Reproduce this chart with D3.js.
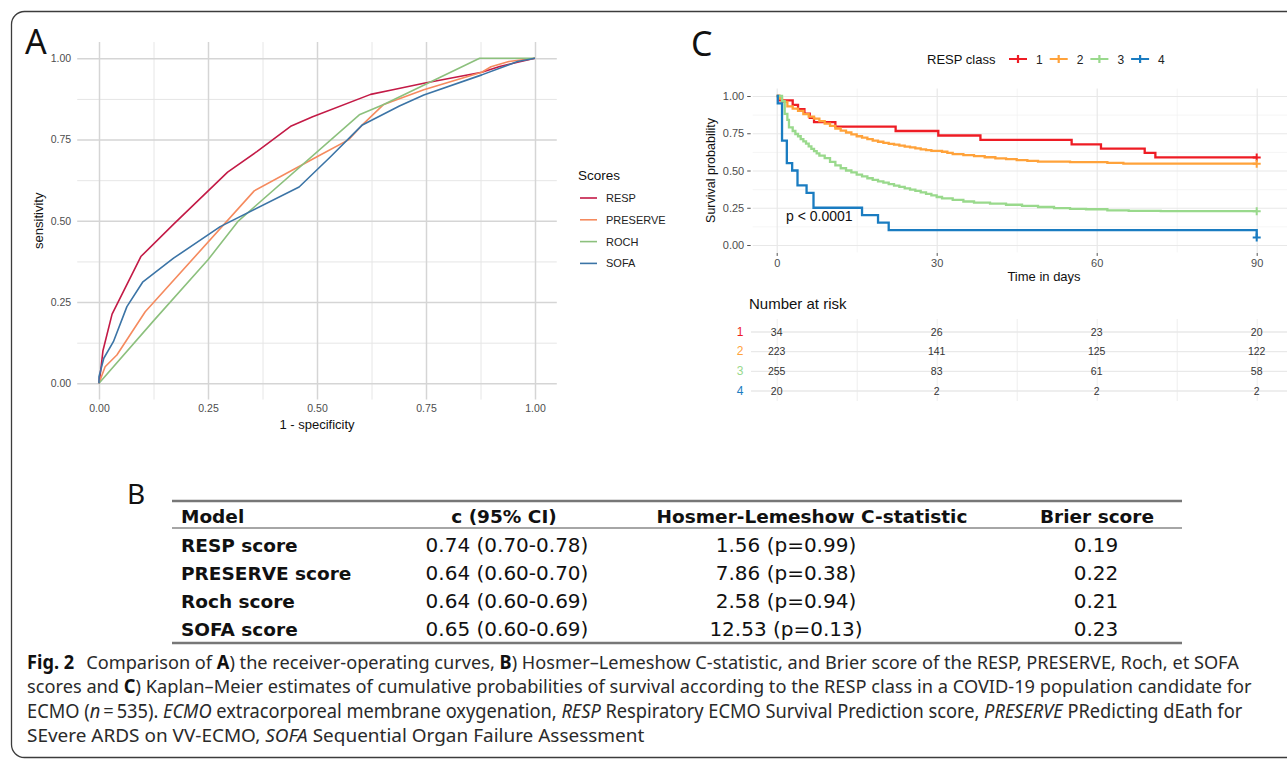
<!DOCTYPE html>
<html>
<head>
<meta charset="utf-8">
<script src="https://cdn.jsdelivr.net/npm/d3@7"></script>
<style>
  body { margin: 0; background: #fff; }
  svg { display: block; font-family: "Liberation Sans", Arial, sans-serif; }
</style>
</head>
<body>
<script>
(function(){

//---- panel A : ROC curves, points are [1 - specificity, sensitivity]
var rocScores = ["RESP", "PRESERVE", "ROCH", "SOFA"];
var rocColors = ["#c31a46", "#f58a5e", "#8cc07d", "#3b74a6"];
var rocResp = [[0,0],[0.004,0.04],[0.009,0.10],[0.03,0.213],[0.096,0.39],[0.173,0.492],[0.295,0.65],
    [0.362,0.713],[0.441,0.792],[0.49,0.82],[0.623,0.889],[0.674,0.903],[0.745,0.923],[0.878,0.957],[0.919,0.975],[1,1]];
var rocPreserve = [[0,0],[0.014,0.051],[0.041,0.087],[0.106,0.22],[0.356,0.592],[0.5,0.697],[0.572,0.749],
    [0.604,0.795],[0.653,0.858],[0.745,0.903],[0.878,0.957],[0.899,0.974],[0.94,0.99],[1,1]];
var rocRoch = [[0,0],[0.125,0.192],[0.25,0.38],[0.32,0.5],[0.597,0.826],[0.653,0.858],[0.873,1],[1,1]];
var rocSofa = [[0,0],[0,0.02],[0.011,0.077],[0.033,0.128],[0.064,0.236],[0.1,0.311],[0.171,0.385],[0.278,0.482],
    [0.459,0.604],[0.531,0.697],[0.604,0.795],[0.689,0.853],[0.745,0.887],[0.878,0.949],[0.96,0.99],[1,1]];
var rocTicks = [0, 0.25, 0.5, 0.75, 1];
var rocMinor = [0.125, 0.375, 0.625, 0.875];

//---- panel C : Kaplan-Meier steps, points are [day, survival]
var kmClasses = ["1", "2", "3", "4"];
var kmColors = ["#ee1c24", "#ffa23a", "#99d98c", "#1a7cc1"];
var kmClass1 = [[0,1],[0.5,0.971],[3,0.941],[4,0.912],[5.2,0.882],[6.2,0.853],[7,0.824],[11,0.794],[22.3,0.765],
    [30.3,0.735],[38.2,0.706],[55.3,0.676],[60.8,0.647],[69,0.618],[71,0.588],[90,0.588]];
var kmClass2 = [[0,1],[0.5,0.982],[1,0.96],[2,0.93],[3,0.915],[4,0.9],[5,0.878],[6,0.862],[7,0.848],[8,0.832],
    [9,0.815],[10,0.8],[11,0.782],[12,0.768],[13,0.755],[14,0.742],[15,0.73],[16,0.72],[17,0.71],[18,0.7],
    [19,0.693],[20,0.686],[21,0.679],[22,0.673],[23,0.667],[24,0.66],[25,0.655],[26,0.648],[27,0.642],[28,0.637],
    [29,0.632],[31,0.626],[32,0.618],[33,0.61],[35,0.603],[37,0.596],[39,0.589],[41,0.582],[43,0.576],[45,0.57],
    [47,0.565],[49,0.56],[55,0.556],[62,0.551],[65,0.546],[90,0.546]];
var kmClass3 = [[0,1],[1,0.965],[1.5,0.88],[2,0.84],[2.3,0.79],[3,0.765],[3.5,0.745],[4,0.73],[4.5,0.71],[5,0.695],
    [5.5,0.68],[6,0.662],[6.5,0.645],[7,0.63],[7.5,0.615],[8,0.6],[9,0.583],[10,0.558],[11,0.535],[12,0.515],
    [13,0.5],[14,0.488],[15,0.472],[16,0.46],[17,0.448],[18,0.437],[19,0.427],[20,0.418],[21,0.408],[22,0.398],
    [23,0.39],[24,0.38],[25,0.372],[26,0.363],[27,0.353],[28,0.343],[29,0.333],[30,0.322],[31,0.313],[33,0.303],
    [35,0.292],[37,0.285],[40,0.278],[43,0.27],[46,0.262],[49,0.255],[52,0.248],[55,0.243],[58,0.24],[62,0.233],
    [66,0.229],[72,0.227],[90,0.227]];
var kmClass4 = [[0,1],[0.2,0.95],[1,0.70],[1.9,0.55],[2.9,0.50],[3.9,0.40],[5.6,0.35],[6.9,0.25],[16,0.20],
    [19,0.15],[21,0.10],[90,0.10],[90,0.05]];
var kmTicksX = [0, 30, 60, 90];
var kmMinorX = [15, 45, 75];
var kmTicksY = [0, 0.25, 0.5, 0.75, 1];
var kmMinorY = [0.125, 0.375, 0.625, 0.875];
var pValue = "p < 0.0001";

//number at risk table
var riskTimes = [0, 30, 60, 90];
var risk1 = [34, 26, 23, 20];
var risk2 = [223, 141, 125, 122];
var risk3 = [255, 83, 61, 58];
var risk4 = [20, 2, 2, 2];

//---- panel B : table
var tableHeader = ["Model", "c (95% CI)", "Hosmer-Lemeshow C-statistic", "Brier score"];
var tableModel = ["RESP score", "PRESERVE score", "Roch score", "SOFA score"];
var tableC = ["0.74 (0.70-0.78)", "0.64 (0.60-0.70)", "0.64 (0.60-0.69)", "0.65 (0.60-0.69)"];
var tableHL = ["1.56 (p=0.99)", "7.86 (p=0.38)", "2.58 (p=0.94)", "12.53 (p=0.13)"];
var tableBrier = ["0.19", "0.22", "0.21", "0.23"];

//---- caption, segments are [text, style]
var captionLines = [
    [["Fig. 2", "b"], ["\u2002\u2009Comparison of ", ""], ["A", "b"], [") the receiver-operating curves, ", ""], ["B", "b"],
     [") Hosmer\u2013Lemeshow C-statistic, and Brier score of the RESP, PRESERVE, Roch, et SOFA", ""]],
    [["scores and ", ""], ["C", "b"],
     [") Kaplan\u2013Meier estimates of cumulative probabilities of survival according to the RESP class in a COVID-19 population candidate for", ""]],
    [["ECMO (", ""], ["n", "i"], ["\u2009=\u2009535). ", ""], ["ECMO", "i"], [" extracorporeal membrane oxygenation, ", ""],
     ["RESP", "i"], [" Respiratory ECMO Survival Prediction score, ", ""], ["PRESERVE", "i"], [" PRedicting dEath for", ""]],
    [["SEvere ARDS on VV-ECMO, ", ""], ["SOFA", "i"], [" Sequential Organ Failure Assessment", ""]]
];
//right end of each caption line in the figure
var captionEnds = [1240, 1252, 1243, 645];

var width = 1287, height = 762;

var svg = d3.select("body")
    .append("svg")
    .attr("width", width)
    .attr("height", height);

//outer frame with rounded corners, runs off the right edge
svg.append("rect")
    .attr("x", 11.5).attr("y", 11.5)
    .attr("width", 1400).attr("height", 746)
    .attr("rx", 13)
    .attr("fill", "none")
    .attr("stroke", "#3c3c3c")
    .attr("stroke-width", 1.3);

//panel letters
function panelLetter(x, y, size, letter){
    svg.append("text")
        .attr("x", x).attr("y", y)
        .style("font-family", "'Noto Sans', sans-serif")
        .style("font-size", size + "px")
        .attr("fill", "#111")
        .text(letter);
};
panelLetter(25, 54, 34, "A");
panelLetter(691, 56, 34, "C");
panelLetter(127, 504, 28, "B");

//helper to draw grid lines through an axis generator
function gridLines(g, axis, color, w){
    g.call(axis)
        .call(function(s){ s.select(".domain").remove(); })
        .call(function(s){ s.selectAll("line").attr("stroke", color).attr("stroke-width", w); });
};

setRoc();
setKm();
setRisk();
setTable();
setCaption();

//ROC panel
function setRoc(){
    var x = d3.scaleLinear().domain([0, 1]).range([99, 535]),
        y = d3.scaleLinear().domain([0, 1]).range([383.3, 58.3]);
    var x0 = x(-0.05), x1 = x(1.05), y0 = y(1.05), y1 = y(-0.05);

    var g = svg.append("g");

    gridLines(g.append("g").attr("transform", "translate(0," + y1 + ")"),
        d3.axisBottom(x).tickValues(rocMinor).tickSize(-(y1 - y0)).tickFormat(""), "#e6e6e6", 1);
    gridLines(g.append("g").attr("transform", "translate(" + x0 + ",0)"),
        d3.axisLeft(y).tickValues(rocMinor).tickSize(-(x1 - x0)).tickFormat(""), "#e6e6e6", 1);
    gridLines(g.append("g").attr("transform", "translate(0," + y1 + ")"),
        d3.axisBottom(x).tickValues(rocTicks).tickSize(-(y1 - y0)).tickFormat(""), "#d5d5d5", 1.5);
    gridLines(g.append("g").attr("transform", "translate(" + x0 + ",0)"),
        d3.axisLeft(y).tickValues(rocTicks).tickSize(-(x1 - x0)).tickFormat(""), "#d5d5d5", 1.5);

    //tick labels
    var fmt = d3.format(".2f");
    var ax = g.append("g").attr("transform", "translate(0," + y1 + ")")
        .call(d3.axisBottom(x).tickValues(rocTicks).tickSize(0).tickPadding(5).tickFormat(fmt));
    var ay = g.append("g").attr("transform", "translate(" + x0 + ",0)")
        .call(d3.axisLeft(y).tickValues(rocTicks).tickSize(0).tickPadding(6).tickFormat(fmt));
    [ax, ay].forEach(function(a){
        a.select(".domain").remove();
        a.selectAll("text")
            .style("font-family", "'Liberation Sans', Arial, sans-serif")
            .style("font-size", "10.5px")
            .attr("fill", "#4d4d4d");
    });

    //axis titles
    g.append("text")
        .attr("x", (x0 + x1) / 2).attr("y", 429)
        .attr("text-anchor", "middle")
        .style("font-size", "13px")
        .attr("fill", "#111")
        .text("1 - specificity");
    g.append("text")
        .attr("transform", "translate(43," + ((y0 + y1) / 2) + ") rotate(-90)")
        .attr("text-anchor", "middle")
        .style("font-size", "13px")
        .attr("fill", "#111")
        .text("sensitivity");

    //curves
    var line = d3.line()
        .x(function(d){ return x(d[0]); })
        .y(function(d){ return y(d[1]); });
    var curves = [rocResp, rocPreserve, rocRoch, rocSofa];
    g.selectAll(".roc")
        .data(curves)
        .enter()
        .append("path")
        .attr("class", "roc")
        .attr("d", line)
        .attr("fill", "none")
        .attr("stroke", function(d, i){ return rocColors[i]; })
        .attr("stroke-width", 1.6)
        .attr("stroke-linejoin", "round");

    //legend
    var leg = g.append("g");
    leg.append("text")
        .attr("x", 578).attr("y", 180)
        .style("font-size", "13.5px")
        .attr("fill", "#111")
        .text("Scores");
    var items = leg.selectAll(".item")
        .data(rocScores)
        .enter()
        .append("g")
        .attr("transform", function(d, i){ return "translate(580," + (198 + i * 21.8) + ")"; });
    items.append("line")
        .attr("x1", 0).attr("x2", 17)
        .attr("stroke", function(d, i){ return rocColors[i]; })
        .attr("stroke-width", 1.6);
    items.append("text")
        .attr("x", 26).attr("y", 4)
        .style("font-size", "11px")
        .attr("fill", "#222")
        .text(function(d){ return d; });
};

//Kaplan-Meier panel
function setKm(){
    var x = d3.scaleLinear().domain([0, 90]).range([776.7, 1256.7]),
        y = d3.scaleLinear().domain([0, 1]).range([245, 96]);
    var x0 = x(-4.5), x1 = x(104.5), y0 = y(1.05), y1 = y(-0.05);

    var g = svg.append("g");

    gridLines(g.append("g").attr("transform", "translate(0," + y1 + ")"),
        d3.axisBottom(x).tickValues(kmMinorX).tickSize(-(y1 - y0)).tickFormat(""), "#f2f2f2", 0.8);
    gridLines(g.append("g").attr("transform", "translate(" + x0 + ",0)"),
        d3.axisLeft(y).tickValues(kmMinorY).tickSize(-(x1 - x0)).tickFormat(""), "#f2f2f2", 0.8);
    gridLines(g.append("g").attr("transform", "translate(0," + y1 + ")"),
        d3.axisBottom(x).tickValues(kmTicksX).tickSize(-(y1 - y0)).tickFormat(""), "#e8e8e8", 1.2);
    gridLines(g.append("g").attr("transform", "translate(" + x0 + ",0)"),
        d3.axisLeft(y).tickValues(kmTicksY).tickSize(-(x1 - x0)).tickFormat(""), "#e8e8e8", 1.2);

    //axes with small ticks
    var ax = g.append("g").attr("transform", "translate(0," + (y1 + 0.5) + ")")
        .call(d3.axisBottom(x).tickValues(kmTicksX).tickSize(3).tickPadding(3));
    var ay = g.append("g").attr("transform", "translate(" + (x0 - 2) + ",0)")
        .call(d3.axisLeft(y).tickValues(kmTicksY).tickSize(3.5).tickPadding(3).tickFormat(d3.format(".2f")));
    [ax, ay].forEach(function(a){
        a.select(".domain").remove();
        a.selectAll("line").attr("stroke", "#555").attr("stroke-width", 1);
        a.selectAll("text")
            .style("font-family", "'Liberation Sans', Arial, sans-serif")
            .style("font-size", "11px")
            .attr("fill", "#4d4d4d");
    });

    g.append("text")
        .attr("x", 1044).attr("y", 281)
        .attr("text-anchor", "middle")
        .style("font-size", "13px")
        .attr("fill", "#111")
        .text("Time in days");
    g.append("text")
        .attr("transform", "translate(715," + ((y0 + y1) / 2) + ") rotate(-90)")
        .attr("text-anchor", "middle")
        .style("font-size", "12.5px")
        .attr("fill", "#111")
        .text("Survival probability");

    //survival steps
    var line = d3.line()
        .curve(d3.curveStepAfter)
        .x(function(d){ return x(d[0]); })
        .y(function(d){ return y(d[1]); });
    var curves = [kmClass1, kmClass2, kmClass3, kmClass4];
    var paths = g.append("g");
    curves.forEach(function(c, i){
        paths.append("path")
            .attr("d", line(c))
            .attr("fill", "none")
            .attr("stroke", kmColors[i])
            .attr("stroke-width", 2.3);
    });
    //censor marks at the end of follow up
    curves.forEach(function(c, i){
        var last = c[c.length - 1];
        var cx = x(last[0]), cy = y(last[1]);
        paths.append("path")
            .attr("d", "M" + (cx - 4) + "," + cy + "H" + (cx + 4) + "M" + cx + "," + (cy - 4) + "V" + (cy + 4))
            .attr("stroke", kmColors[i])
            .attr("stroke-width", 2);
    });

    g.append("text")
        .attr("x", 786).attr("y", 221)
        .style("font-size", "14px")
        .attr("fill", "#111")
        .text(pValue);

    //legend on top
    var leg = g.append("g");
    leg.append("text")
        .attr("x", 927).attr("y", 63.5)
        .style("font-size", "13px")
        .attr("fill", "#111")
        .text("RESP class");
    var items = leg.selectAll(".item")
        .data(kmClasses)
        .enter()
        .append("g")
        .attr("transform", function(d, i){ return "translate(" + (1009 + i * 40.7) + ",59)"; });
    items.append("path")
        .attr("d", "M0,0H18M9,-4V4")
        .attr("stroke", function(d, i){ return kmColors[i]; })
        .attr("stroke-width", 2.2);
    items.append("text")
        .attr("x", 27).attr("y", 4.5)
        .style("font-size", "12px")
        .attr("fill", "#222")
        .text(function(d){ return d; });
};

//number at risk table
function setRisk(){
    var x = d3.scaleLinear().domain([0, 90]).range([776.7, 1256.7]),
        y = d3.scalePoint().domain(kmClasses).range([331.5, 390.5]);
    var rows = [risk1, risk2, risk3, risk4];
    var g = svg.append("g");

    g.append("text")
        .attr("x", 749).attr("y", 309)
        .style("font-size", "15px")
        .attr("fill", "#111")
        .text("Number at risk");

    //grid
    gridLines(g.append("g").attr("transform", "translate(0,401)"),
        d3.axisBottom(x).tickValues(kmMinorX.concat(kmTicksX)).tickSize(-82).tickFormat(""), "#eeeeee", 1);
    gridLines(g.append("g").attr("transform", "translate(751,0)"),
        d3.axisLeft(y).tickSize(-560).tickFormat(""), "#e9e9e9", 1.3);

    rows.forEach(function(r, i){
        g.append("text")
            .attr("x", 740).attr("y", y(kmClasses[i]) + 4)
            .attr("text-anchor", "middle")
            .style("font-size", "12px")
            .attr("fill", kmColors[i])
            .text(kmClasses[i]);
        g.selectAll(".n" + i)
            .data(r)
            .enter()
            .append("text")
            .attr("x", function(d, j){ return x(riskTimes[j]); })
            .attr("y", y(kmClasses[i]) + 4)
            .attr("text-anchor", "middle")
            .style("font-size", "10.5px")
            .attr("fill", "#333")
            .text(function(d){ return d; });
    });
};

//results table
function setTable(){
    var g = svg.append("g").style("font-family", "'DejaVu Sans', sans-serif");
    var y = d3.scalePoint().domain(tableModel).range([545, 629]);
    var headX = [181, 504, 812, 1097],
        colX = [181, 507, 786, 1096];

    g.append("line").attr("x1", 172).attr("x2", 1182).attr("y1", 501).attr("y2", 501)
        .attr("stroke", "#777").attr("stroke-width", 2.4);
    g.append("line").attr("x1", 172).attr("x2", 1182).attr("y1", 528).attr("y2", 528)
        .attr("stroke", "#888").attr("stroke-width", 1.4);
    g.append("line").attr("x1", 172).attr("x2", 1182).attr("y1", 643).attr("y2", 643)
        .attr("stroke", "#777").attr("stroke-width", 2.4);

    g.selectAll(".head")
        .data(tableHeader)
        .enter()
        .append("text")
        .attr("x", function(d, i){ return headX[i]; })
        .attr("y", 523)
        .attr("text-anchor", function(d, i){ return i == 0 ? "start" : "middle"; })
        .style("font-size", "18.5px")
        .style("font-weight", "bold")
        .attr("fill", "#111")
        .text(function(d){ return d; });

    var cols = [tableModel, tableC, tableHL, tableBrier];
    cols.forEach(function(col, c){
        g.selectAll(".c" + c)
            .data(col)
            .enter()
            .append("text")
            .attr("x", colX[c])
            .attr("y", function(d, i){ return y(tableModel[i]) + 7; })
            .attr("text-anchor", c == 0 ? "start" : "middle")
            .style("font-size", c == 0 ? "18.5px" : "20px")
            .style("font-weight", c == 0 ? "bold" : "normal")
            .attr("fill", "#111")
            .text(function(d){ return d; });
    });
};

//figure caption
function setCaption(){
    var g = svg.append("g")
        .style("font-family", "'Noto Sans', sans-serif")
        .style("font-size", "19px");
    captionLines.forEach(function(segs, i){
        var t = g.append("text")
            .attr("x", 0)
            .attr("y", 0)
            .attr("fill", "#222")
            .style("white-space", "pre");
        segs.forEach(function(s){
            t.append("tspan")
                .style("font-weight", s[1] == "b" ? "bold" : "normal")
                .style("font-style", s[1] == "i" ? "italic" : "normal")
                .attr("fill", s[1] == "b" ? "#111" : "#2a2a2a")
                .text(s[0]);
        });
        //condense each line so it ends where it does in the figure
        var w = t.node().getComputedTextLength();
        var sx = (captionEnds[i] - 27) / w;
        t.attr("transform", "translate(27," + (669 + i * 24.3) + ") scale(" + sx + ",1)");
    });
};

})();
</script>
</body>
</html>
